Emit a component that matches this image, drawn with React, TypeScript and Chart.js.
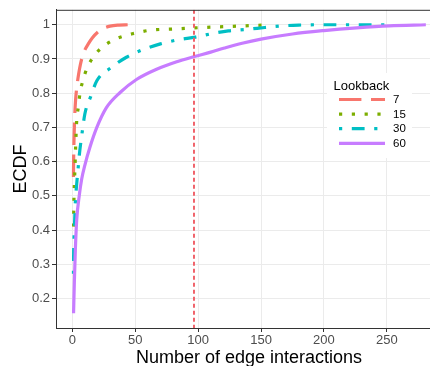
import React, { useEffect, useRef } from 'react';
import { Chart, registerables } from 'chart.js';

Chart.register(...registerables);

// ---- data ----
const seriesNames = ['7', '15', '30', '60'];
const seriesColors = ['#F8766D', '#7CAE00', '#00BFC4', '#C77CFF'];

const x7 = [0.9, 1.1, 1.4, 2, 2.6, 3.5, 5, 6.5, 9, 12.7, 16, 20.7, 25, 30, 37, 44];
const p7 = [0.555, 0.62, 0.67, 0.74, 0.78, 0.815, 0.855, 0.885, 0.918, 0.944, 0.962, 0.98, 0.99, 0.996, 0.999, 1.0];

const x15 = [1, 1.2, 1.6, 2.1, 2.7, 3.5, 4.8, 6.1, 8.4, 11.7, 16.7, 23.7, 32.6, 42, 52, 62, 83, 104, 125, 145, 158];
const p15 = [0.41, 0.47, 0.53, 0.58, 0.65, 0.72, 0.76, 0.8, 0.837, 0.873, 0.906, 0.934, 0.955, 0.968, 0.977, 0.984, 0.988, 0.992, 0.995, 0.998, 1.0];

const x30 = [0.9, 1.1, 1.4, 1.9, 2.4, 3.5, 4.5, 5.6, 8, 10, 14.6, 19.6, 31, 43, 56, 70, 84, 98, 112, 124, 140, 153, 168, 180, 195, 254];
const p30 = [0.272, 0.34, 0.38, 0.43, 0.48, 0.535, 0.575, 0.62, 0.69, 0.74, 0.79, 0.837, 0.875, 0.905, 0.927, 0.944, 0.956, 0.964, 0.975, 0.982, 0.987, 0.992, 0.997, 0.999, 1.0, 1.0];

const x60 = [1, 1.6, 2.4, 3.5, 5.5, 7.5, 10, 14, 19.5, 27, 38, 51, 67, 83, 97, 110, 121, 135, 150, 175, 200, 226, 252, 281];
const p60 = [0.157, 0.244, 0.34, 0.43, 0.5, 0.55, 0.59, 0.642, 0.7, 0.757, 0.802, 0.84, 0.87, 0.892, 0.907, 0.92, 0.932, 0.946, 0.958, 0.973, 0.983, 0.991, 0.997, 1.0];

const thresholdX = 96.7;

const xTickValues = [0, 50, 100, 150, 200, 250];
const yTickValues = [0.2, 0.3, 0.4, 0.5, 0.6, 0.7, 0.8, 0.9, 1.0];

const legendTitle = 'Lookback';
const xTitle = 'Number of edge interactions';
const yTitle = 'ECDF';

// ---- styles ----
const FONT = "'Liberation Sans', Arial, Helvetica, sans-serif";
const LW = 3.2;
const dashes: number[][] = [
  [LW * 7, LW * 3],
  [LW * 1, LW * 3],
  [LW * 1, LW * 3, LW * 4, LW * 3],
  [],
];

const overlayPlugin = {
  id: 'overlay',
  afterDatasetsDraw(chart: any) {
    const { ctx, chartArea, scales } = chart;
    ctx.save();
    ctx.beginPath();
    ctx.rect(chartArea.left, chartArea.top, chartArea.right - chartArea.left, chartArea.bottom - chartArea.top);
    ctx.clip();
    const xp = scales.x.getPixelForValue(thresholdX);
    ctx.beginPath();
    ctx.strokeStyle = '#F0626A';
    ctx.lineWidth = 2;
    ctx.lineCap = 'butt';
    ctx.setLineDash([4, 3]);
    ctx.moveTo(xp, chartArea.top);
    ctx.lineTo(xp, chartArea.bottom);
    ctx.stroke();
    ctx.restore();

    ctx.save();
    ctx.beginPath();
    ctx.strokeStyle = '#333333';
    ctx.lineWidth = 1;
    ctx.moveTo(chartArea.left, chartArea.top + 0.5);
    ctx.lineTo(chartArea.right, chartArea.top + 0.5);
    ctx.stroke();

    const bx = 327, by = 73, bw = 85, bh = 85;
    ctx.fillStyle = '#FFFFFF';
    ctx.fillRect(bx, by, bw, bh);
    ctx.fillStyle = '#000000';
    ctx.font = `13px ${FONT}`;
    ctx.textAlign = 'left';
    ctx.textBaseline = 'alphabetic';
    ctx.fillText(legendTitle, 333.5, 89.5);
    const rowY = [99.5, 114.1, 128.7, 143.3];
    seriesNames.forEach((name, i) => {
      ctx.beginPath();
      ctx.strokeStyle = seriesColors[i];
      ctx.lineWidth = LW;
      ctx.lineCap = 'butt';
      ctx.setLineDash(dashes[i]);
      ctx.moveTo(339, rowY[i]);
      ctx.lineTo(385, rowY[i]);
      ctx.stroke();
      ctx.setLineDash([]);
      ctx.fillStyle = '#000000';
      ctx.font = `11.5px ${FONT}`;
      ctx.textBaseline = 'middle';
      ctx.fillText(name, 393, rowY[i] + 0.5);
    });
    ctx.restore();
  },
  afterDraw(chart: any) {
    const { ctx, chartArea } = chart;
    ctx.save();
    ctx.fillStyle = '#000000';
    ctx.font = `18px ${FONT}`;
    ctx.textAlign = 'center';
    ctx.textBaseline = 'alphabetic';
    ctx.fillText(xTitle, 249, 363);
    ctx.translate(26, (chartArea.top + chartArea.bottom) / 2);
    ctx.rotate(-Math.PI / 2);
    ctx.fillText(yTitle, 0, 0);
    ctx.restore();
  },
};

export default function App() {
  const canvasRef = useRef<HTMLCanvasElement | null>(null);

  useEffect(() => {
    if (!canvasRef.current) return;
    const xs = [x7, x15, x30, x60];
    const ps = [p7, p15, p30, p60];
    const datasets = seriesNames.map((name, i) => ({
      label: name,
      data: xs[i].map((x, j) => ({ x, y: ps[i][j] })),
      borderColor: seriesColors[i],
      backgroundColor: seriesColors[i],
      borderWidth: LW,
      borderDash: dashes[i],
      borderCapStyle: 'butt' as const,
      pointRadius: 0,
      cubicInterpolationMode: 'monotone' as const,
      fill: false,
      order: 3 - i,
    }));

    const chart = new Chart(canvasRef.current, {
      type: 'line',
      data: { datasets },
      options: {
        animation: false,
        responsive: false,
        maintainAspectRatio: false,
        layout: { padding: { top: 9, left: 0, right: 0, bottom: 0 } },
        plugins: {
          legend: { display: false },
          tooltip: { enabled: false },
          title: { display: false },
        },
        scales: {
          x: {
            type: 'linear',
            min: -12.96,
            max: 284.3,
            afterFit: (s: any) => { s.height = 38; },
            afterBuildTicks: (s: any) => { s.ticks = xTickValues.map((value) => ({ value })); },
            ticks: {
              font: { size: 13, family: FONT },
              color: '#4D4D4D',
              padding: 1,
              maxRotation: 0,
              autoSkip: false,
              callback: (v: any) => String(v),
            },
            grid: { color: '#EBEBEB', lineWidth: 1, tickLength: 4, tickColor: '#333333', tickWidth: 1 },
            border: { display: true, color: '#333333', width: 1 },
          },
          y: {
            type: 'linear',
            min: 0.1137,
            max: 1.0437,
            afterFit: (s: any) => { s.width = 56; },
            afterBuildTicks: (s: any) => { s.ticks = yTickValues.map((value) => ({ value })); },
            ticks: {
              font: { size: 13, family: FONT },
              color: '#4D4D4D',
              padding: 2,
              autoSkip: false,
              callback: (v: any) => String(Math.round(Number(v) * 10) / 10),
            },
            grid: { color: '#EBEBEB', lineWidth: 1, tickLength: 4, tickColor: '#333333', tickWidth: 1 },
            border: { display: true, color: '#333333', width: 1 },
          },
        },
      },
      plugins: [overlayPlugin],
    });
    return () => chart.destroy();
  }, []);

  return (
    <div style={{ position: 'fixed', left: 0, top: 0, width: 430, height: 366, background: '#FFFFFF' }}>
      <canvas ref={canvasRef} width={430} height={366} style={{ display: 'block', width: 430, height: 366 }} />
    </div>
  );
}
